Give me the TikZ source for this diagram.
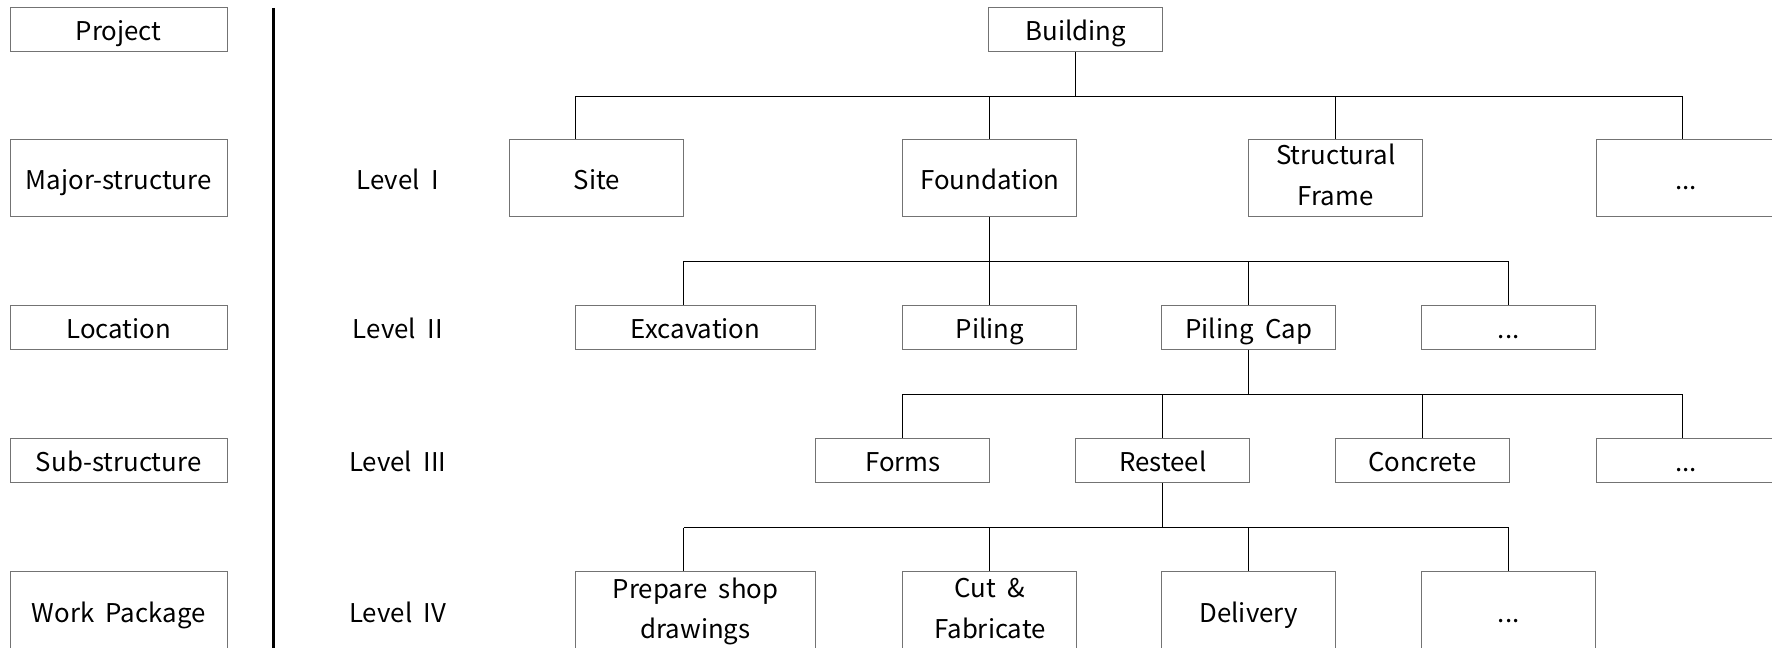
\documentclass[tikz,border=0pt]{standalone}
\usepackage{fontspec}
\setmainfont{Noto Sans CJK KR}
\usetikzlibrary{calc}

\newcommand\wbsfont{\fontsize{13}{20.5}\selectfont}
% keeps the baseline at the same place in every box
\newcommand\wbsstrut{\rule[-3pt]{0pt}{17.4pt}}
% parent, bus height, bus left, bus right, list of child/x
\newcommand\wbsfork[5]{%
  \draw[wbsline] (#1.south) -- (#1.south |- 0,#2);
  \draw[wbsline] (#3,#2) -- (#4,#2);
  \foreach \kid/\kx in {#5} {
    \draw[wbsline] (\kx,#2) -- (\kid.north -| \kx,0);
  }
}

\tikzset{
  wbsbox/.style={draw=black!55, line width=0.5pt, minimum width=3.08cm,
    minimum height=0.78cm, inner sep=0pt, align=center, font=\wbsfont,
    execute at begin node=\wbsstrut, execute at end node=\wbsstrut},
  tallbox/.style={wbsbox, minimum height=1.36cm},
  widebox/.style={minimum width=4.26cm},
  sidebox/.style={minimum width=3.84cm},
  lastbox/.style={minimum width=3.16cm},
  wbsline/.style={line width=0.5pt, black},
  lvl/.style={font=\wbsfont, inner sep=0pt, execute at begin node=\wbsstrut},
}

\begin{document}
\begin{tikzpicture}[x=0.02cm, y=-0.02cm]
  \useasboundingbox (0,0) rectangle (1568,573);

  % The breakdown levels
  \node[wbsbox,sidebox]  (project) at (105,26)    {Project};
  \node[tallbox,sidebox] (major)   at (105,157.5) {Major-structure};
  \node[wbsbox,sidebox]  (loc)     at (105,289.5) {Location};
  \node[wbsbox,sidebox]  (sub)     at (105,407.5) {Sub-structure};
  \node[tallbox,sidebox,minimum height=1.4cm] (work) at (105,541) {Work~~Package};

  % Separation line
  \draw[line width=1.3pt] (242,7) -- (242,580);

  \node[lvl] (lvlI)   at (352,157.5) {Level~~I};
  \node[lvl] (lvlII)  at (352,289.5) {Level~~II};
  \node[lvl] (lvlIII) at (352,407.5) {Level~~III};
  \node[lvl] (lvlIV)  at (352,541)   {Level~~IV};

  % The tree
  \node[wbsbox] (building) at (952,26) {Building};

  \node[tallbox] (site)   at (528,157.5)  {Site};
  \node[tallbox] (found)  at (876,157.5)  {Foundation};
  \node[tallbox] (frame)  at (1182,157.5) {Structural\\Frame};
  \node[tallbox,lastbox] (moreI) at (1492,157.5) {...};

  \node[wbsbox,widebox] (exc) at (615.5,289.5) {Excavation};
  \node[wbsbox] (piling)  at (876,289.5)  {Piling};
  \node[wbsbox] (cap)     at (1105,289.5) {Piling~~Cap};
  \node[wbsbox] (moreII)  at (1335,289.5) {...};

  \node[wbsbox] (forms)    at (799,407.5)  {Forms};
  \node[wbsbox] (resteel)  at (1029,407.5) {Resteel};
  \node[wbsbox] (concrete) at (1258.5,407.5) {Concrete};
  \node[wbsbox,lastbox] (moreIII) at (1492,407.5) {...};

  \node[tallbox,widebox,minimum height=1.4cm] (shop) at (615.5,541) {Prepare~~shop\\drawings};
  \node[tallbox,minimum height=1.4cm] (cut)      at (876,541)  {Cut~~\&\\Fabricate};
  \node[tallbox,minimum height=1.4cm] (delivery) at (1105,541) {Delivery};
  \node[tallbox,minimum height=1.4cm] (moreIV)   at (1335,541) {...};

  \wbsfork{building}{85}{509}{1489}{site/509, found/876, frame/1182, moreI/1489}
  \wbsfork{found}{231}{605}{1335}{exc/605, piling/876, cap/1105, moreII/1335}
  \wbsfork{cap}{349}{799}{1489}{forms/799, resteel/1029, concrete/1258.5, moreIII/1489}
  \wbsfork{resteel}{467}{605}{1335}{shop/605, cut/876, delivery/1105, moreIV/1335}
\end{tikzpicture}
\end{document}
